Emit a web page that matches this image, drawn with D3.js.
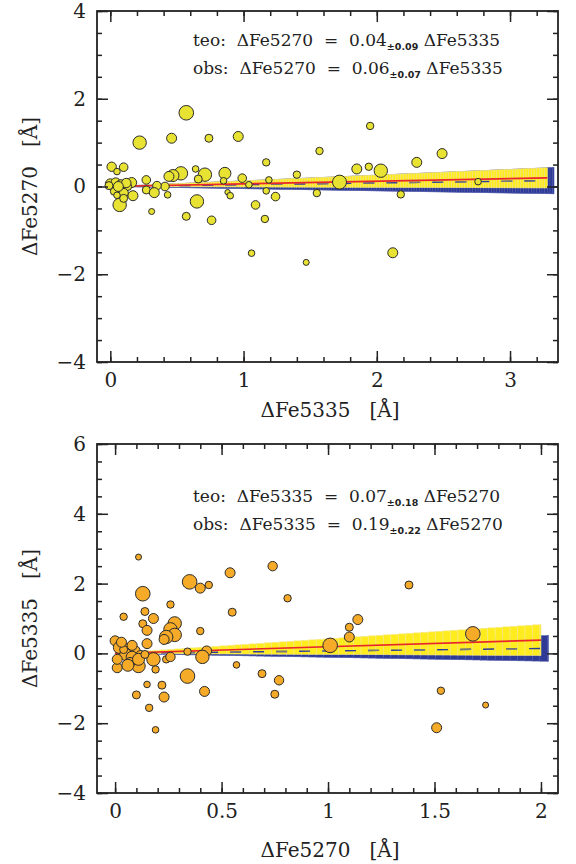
<!DOCTYPE html>
<html><head><meta charset="utf-8">
<script src="https://cdn.jsdelivr.net/npm/d3@7"></script>
<style>
html,body{margin:0;padding:0;background:#fff;}
svg text{font-family:"DejaVu Serif",serif;fill:#222;}
</style></head>
<body><svg id="c" width="576" height="864"></svg>
<script>
// ---------- data ----------
// Top panel: x = ΔFe5335, y = ΔFe5270, w = marker weight
const topX = [0.57,0.22,0.46,0.74,0.96,0.01,0.10,0.05,1.17,0.64,0.71,0.86,0.53,0.47,0.44,0.66,0.99,0.85,1.19,0.27,1.04,0.41,0.35,0.27,0.33,0.43,1.17,0.88,0.90,1.24,0.65,1.09,0.31,0.57,0.76,1.16,1.06,1.47,1.55,1.72,1.95,1.57,2.49,2.30,2.03,1.94,1.85,1.40,2.18,2.76,2.12,0.00,0.04,0.08,0.16,0.13,0.07,0.10,0.17,0.03,0.07,0.10,0.05,-0.01,0.12,0.06];
const topY = [1.68,1.00,1.10,1.10,1.14,0.45,0.44,0.34,0.55,0.40,0.27,0.30,0.30,0.25,0.23,0.17,0.19,0.13,0.15,0.15,0.04,0.00,0.02,-0.08,-0.14,-0.19,-0.10,-0.13,-0.21,-0.23,-0.34,-0.42,-0.57,-0.68,-0.77,-0.74,-1.52,-1.73,-0.15,0.10,1.38,0.81,0.75,0.55,0.36,0.45,0.40,0.27,-0.18,0.11,-1.51,0.06,0.09,0.04,0.09,0.00,-0.08,-0.15,-0.21,-0.11,-0.42,-0.27,-0.20,0.02,0.08,0.00];
const topW = [7.3,6.7,5,4,5,4.7,4.3,3.3,3.7,3.3,6.7,6,6.7,6,5,4,4.3,3.3,3.3,4.3,3.3,4.3,4.3,4,5,3.3,3.3,2.7,3.3,4.3,6.7,4.3,3,4,4.3,3.7,3.3,3,3.7,7,3.7,3.7,5,5,6.7,3.7,5,3.7,3.7,3.3,5,5,4.7,5,5,4,4.7,4.7,5,4,6.7,4,3.3,4,4.7,5];
// Bottom panel: x = ΔFe5270, y = ΔFe5335
const botX = [0.11,0.35,0.40,0.44,0.54,0.13,0.74,0.26,0.14,0.55,0.04,0.18,0.13,0.28,0.15,0.26,0.28,0.24,0.23,0.40,0.15,0.00,0.34,0.43,0.41,0.18,0.24,0.26,0.11,0.01,0.19,0.57,0.34,0.69,0.77,0.15,0.22,0.42,0.10,0.23,0.75,0.16,0.19,0.81,1.38,1.14,1.10,1.10,1.01,1.68,1.53,1.74,1.51,0.02,0.06,0.09,0.05,0.08,0.12,0.01,0.07,0.11,0.04,0.08,0.03,0.14,0.06];
const botY = [2.76,2.05,1.87,1.96,2.31,1.71,2.50,1.40,1.20,1.18,1.05,1.00,0.85,0.86,0.66,0.69,0.53,0.47,0.40,0.64,0.28,0.36,0.05,0.07,-0.10,-0.17,-0.17,-0.10,-0.36,-0.41,-0.46,-0.33,-0.65,-0.58,-0.77,-0.89,-0.91,-1.09,-1.19,-1.25,-1.17,-1.56,-2.19,1.58,1.96,0.97,0.75,0.47,0.23,0.56,-1.07,-1.48,-2.13,0.17,0.11,0.06,-0.03,-0.11,-0.06,-0.17,-0.26,-0.17,0.11,0.23,0.32,-0.03,-0.34];
const botW = [3,7.3,5,3.7,5,7.3,4.7,3.7,4,4,3.7,5,4,6.7,5,6.7,6.7,6.7,5,3.7,5,5,3.7,5,6.7,6.7,3.7,4.7,6.7,5,3.7,3.3,7.3,4,4.7,3.3,4,5,4,5,4,3.7,3.3,3.7,4,5,4,5,7.3,7.3,3.7,3,5,6,6,6,6,6,5,5,5,6,4,5,5,4,6];
// fitted slopes: [slope, error]
const topTeo = [0.04, 0.09], topObs = [0.06, 0.07];
const botTeo = [0.07, 0.18], botObs = [0.19, 0.22];
const topXTicks = [0,1,2,3], topYTicks = [-4,-2,0,2,4];
const botXTicks = [0,0.5,1,1.5,2], botYTicks = [-4,-2,0,2,4,6];

const svg = d3.select("#c");
const rScale = d3.scaleLinear().domain([0,10]).range([0,10]);

function panel(o){
  const g = svg.append("g");
  const x = d3.scaleLinear().domain(o.xdom).range([97,558]);
  const y = d3.scaleLinear().domain(o.ydom).range(o.yrange);
  const [y0,y1] = o.yrange;
  function wedge(sl, x0, x1, step, fill, edge){
    const lo = sl[0]-sl[1], hi = sl[0]+sl[1];
    const xs = d3.range(x0, x1-1e-9, step);
    g.append("g").selectAll("rect").data(xs).join("rect")
      .attr("x", d=>x(d)).attr("width", d=>x(Math.min(d+step,x1))-x(d))
      .attr("y", d=>y(hi*(d+step)))
      .attr("height", d=>y(lo*(d+step))-y(hi*(d+step)))
      .attr("fill", fill).attr("stroke", edge).attr("stroke-width",0.6);
  }
  wedge(o.teo, 0, o.xend+o.blueExtra, o.step, "#2e3a96", "#4a55a8");
  wedge(o.obs, 0, o.xend, o.step, "#ffec1e", "#f6e88a");
  const ln = (s)=>[[0,0],[o.xend,s*o.xend]];
  const line = d3.line().x(d=>x(d[0])).y(d=>y(d[1]));
  g.append("path").attr("d", line(ln(o.teo[0]))).attr("stroke","#2c3c9c").attr("stroke-width",1.4)
    .attr("fill","none").attr("stroke-dasharray","11,12");
  g.append("path").attr("d", line(ln(o.teo[0]))).attr("stroke","#7a7a7a").attr("stroke-width",1.4)
    .attr("fill","none").attr("stroke-dasharray","0,23,11,12");
  g.append("path").attr("d", line(ln(o.obs[0]))).attr("stroke","#e8262c").attr("stroke-width",1.6).attr("fill","none");
  g.append("g").selectAll("circle").data(o.px.map((v,i)=>i)).join("circle")
    .attr("cx", i=>x(o.px[i])).attr("cy", i=>y(o.py[i])).attr("r", i=>rScale(o.pw[i]))
    .attr("fill", o.color).attr("stroke","#2b2b2b").attr("stroke-width",1);
  g.append("rect").attr("x",97).attr("y",y1).attr("width",558-97).attr("height",y0-y1)
    .attr("fill","none").attr("stroke","#222").attr("stroke-width",1.8);
  const mx = d3.range(Math.ceil(o.xdom[0]/o.xminor)*o.xminor, o.xdom[1], o.xminor).map(v=>+v.toFixed(3));
  const my = d3.range(o.ydom[0], o.ydom[1]+1e-9, 0.5);
  const fmt = d=> (d<0? "\u2212"+Math.abs(d) : String(d));
  function ax(a, tr, ticks, size, labels){
    const gg = g.append("g").attr("transform",tr)
      .call(a.tickValues(ticks).tickSize(-size).tickPadding(labels?11:0).tickFormat(labels?fmt:()=>""));
    gg.select(".domain").remove();
    gg.selectAll("line").attr("stroke","#222").attr("stroke-width",1.5);
    gg.selectAll("text").attr("font-size",20).attr("font-family","DejaVu Serif").attr("fill","#222");
    return gg;
  }
  ax(d3.axisBottom(x), `translate(0,${y0})`, mx, 5, false);
  ax(d3.axisTop(x), `translate(0,${y1})`, mx, 5, false);
  ax(d3.axisBottom(x), `translate(0,${y0})`, o.xt, 11, true);
  ax(d3.axisTop(x), `translate(0,${y1})`, o.xt, 11, false);
  ax(d3.axisLeft(y), `translate(97,0)`, my, 5, false);
  ax(d3.axisRight(y), `translate(558,0)`, my, 5, false);
  ax(d3.axisLeft(y), `translate(97,0)`, o.yt, 11, true);
  ax(d3.axisRight(y), `translate(558,0)`, o.yt, 11, false);
  g.append("text").attr("x",330).attr("y",o.xtitleY).attr("text-anchor","middle").attr("font-size",20)
    .style("white-space","pre").text(o.xtitle);
  g.append("text").attr("transform",`translate(37,${(y0+y1)/2}) rotate(-90)`).attr("text-anchor","middle")
    .attr("font-size",20).style("white-space","pre").text(o.ytitle);
  o.ann.forEach((a,i)=>{
    const t = g.append("text").attr("x",193).attr("y",o.annY+i*o.annDy).attr("font-size",17)
      .style("white-space","pre");
    t.append("tspan").text(a[0]);
    t.append("tspan").attr("dy",4).attr("font-size",9.5).attr("font-weight","bold")
      .attr("font-family","DejaVu Sans").text(a[1]);
    t.append("tspan").attr("dy",-4).text(" "+a[2]);
  });
}

panel({xdom:[-0.1,3.36], ydom:[-4,4], yrange:[362,11], xminor:0.2, xt:topXTicks, yt:topYTicks,
  teo:topTeo, obs:topObs, xend:3.28, blueExtra:0.05, step:0.02,
  px:topX, py:topY, pw:topW, color:"#e8e233",
  xtitle:"\u0394Fe5335   [\u00c5]", ytitle:"\u0394Fe5270   [\u00c5]", xtitleY:417,
  ann:[["teo:  \u0394Fe5270  =  0.04","\u00b10.09","\u0394Fe5335"],["obs:  \u0394Fe5270  =  0.06","\u00b10.07","\u0394Fe5335"]],
  annY:46, annDy:28});
panel({xdom:[-0.085,2.08], ydom:[-4,6], yrange:[793,444], xminor:0.1, xt:botXTicks, yt:botYTicks,
  teo:botTeo, obs:botObs, xend:2.0, blueExtra:0.035, step:0.035,
  px:botX, py:botY, pw:botW, color:"#f5aa28",
  xtitle:"\u0394Fe5270   [\u00c5]", ytitle:"\u0394Fe5335   [\u00c5]", xtitleY:857,
  ann:[["teo:  \u0394Fe5335  =  0.07","\u00b10.18","\u0394Fe5270"],["obs:  \u0394Fe5335  =  0.19","\u00b10.22","\u0394Fe5270"]],
  annY:502, annDy:28});
</script></body></html>
